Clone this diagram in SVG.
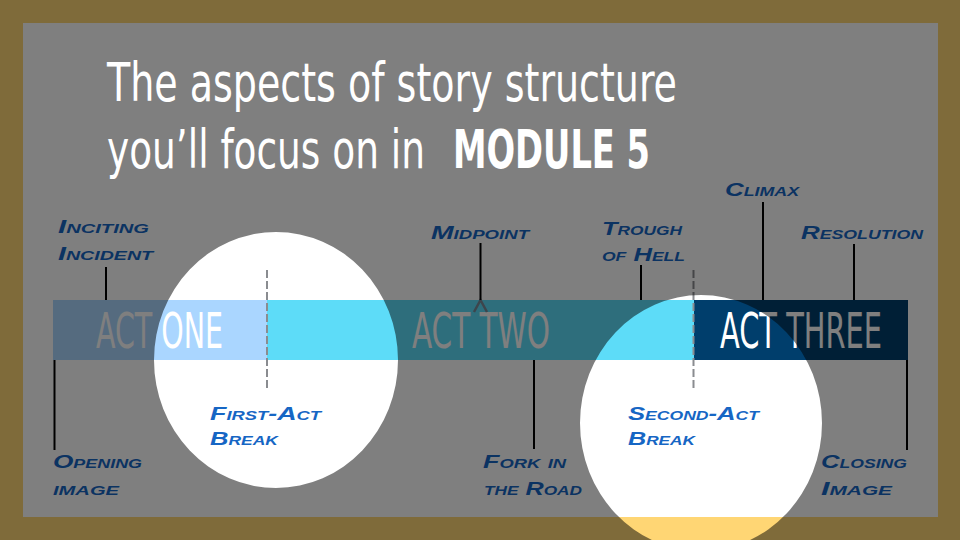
<svg xmlns="http://www.w3.org/2000/svg" width="960" height="540" viewBox="0 0 960 540">
<style>
.lbl{font-family:"Liberation Sans","DejaVu Sans",sans-serif;font-weight:bold;font-style:italic;font-variant:small-caps;font-size:19px;fill:#1666C4;}
.act{font-family:"Liberation Sans Narrow","DejaVu Sans Condensed","Liberation Sans",sans-serif;font-size:50px;fill:#FFFFFF;}
.title{font-family:"Liberation Sans Narrow","DejaVu Sans Condensed","Liberation Sans",sans-serif;font-size:54px;fill:#FFFFFF;}
.tick{stroke:#000000;stroke-width:2;fill:none;}
.dash{stroke:#8A8C90;stroke-width:2;stroke-dasharray:8 3;fill:none;}
</style>
<rect x="0" y="0" width="960" height="540" fill="#FFD674"/>
<rect x="23" y="23" width="915" height="494" fill="#FFFFFF"/>
<g id="bar">
<rect x="53" y="300" width="214" height="60" fill="#AAD6FF"/>
<rect x="267" y="300" width="427" height="60" fill="#5DDCF8"/>
<rect x="694" y="300" width="214" height="60" fill="#003E6C"/>
<text class="act" x="96" y="348" textLength="127" lengthAdjust="spacingAndGlyphs">ACT ONE</text>
<text class="act" x="412" y="348" textLength="138" lengthAdjust="spacingAndGlyphs">ACT TWO</text>
<text class="act" x="720" y="348" textLength="162" lengthAdjust="spacingAndGlyphs">ACT THREE</text>
<path d="M474 312 L480.5 300 L487 312" stroke="#7A8A99" stroke-width="2.5" fill="none"/>
</g>
<g id="connectors">
<line class="tick" x1="106" y1="267" x2="106" y2="300"/>
<line class="tick" x1="54.5" y1="360" x2="54.5" y2="450"/>
<line class="tick" x1="480.5" y1="243" x2="480.5" y2="300"/>
<line class="tick" x1="641" y1="265" x2="641" y2="300"/>
<line class="tick" x1="534" y1="360" x2="534" y2="449"/>
<line class="tick" x1="763" y1="202" x2="763" y2="300"/>
<line class="tick" x1="854" y1="244" x2="854" y2="300"/>
<line class="tick" x1="907" y1="360" x2="907" y2="450"/>
<line class="dash" x1="267" y1="270" x2="267" y2="388"/>
<line class="dash" x1="693.5" y1="270" x2="693.5" y2="388"/>
</g>
<g id="inciting-incident"><text class="lbl" x="58" y="233" textLength="91" lengthAdjust="spacingAndGlyphs">Inciting</text><text class="lbl" x="58" y="260" textLength="95" lengthAdjust="spacingAndGlyphs">Incident</text></g>
<g id="midpoint"><text class="lbl" x="431" y="239" textLength="98" lengthAdjust="spacingAndGlyphs">Midpoint</text></g>
<g id="trough-of-hell"><text class="lbl" x="602" y="235" textLength="80" lengthAdjust="spacingAndGlyphs">Trough</text><text class="lbl" x="602" y="261" textLength="83" lengthAdjust="spacingAndGlyphs">of Hell</text></g>
<g id="climax"><text class="lbl" x="725" y="196" textLength="74" lengthAdjust="spacingAndGlyphs">Climax</text></g>
<g id="resolution"><text class="lbl" x="801" y="239" textLength="122" lengthAdjust="spacingAndGlyphs">Resolution</text></g>
<g id="opening-image"><text class="lbl" x="53" y="468" textLength="89" lengthAdjust="spacingAndGlyphs">Opening</text><text class="lbl" x="53" y="495" textLength="66" lengthAdjust="spacingAndGlyphs">image</text></g>
<g id="fork-in-the-road"><text class="lbl" x="483" y="468" textLength="83" lengthAdjust="spacingAndGlyphs">Fork in</text><text class="lbl" x="484" y="495" textLength="98" lengthAdjust="spacingAndGlyphs">the Road</text></g>
<g id="closing-image"><text class="lbl" x="821" y="468" textLength="86" lengthAdjust="spacingAndGlyphs">Closing</text><text class="lbl" x="821" y="495" textLength="71" lengthAdjust="spacingAndGlyphs">Image</text></g>
<g id="first-act-break"><text class="lbl" x="210" y="420" textLength="111" lengthAdjust="spacingAndGlyphs">First-Act</text><text class="lbl" x="210" y="445" textLength="68" lengthAdjust="spacingAndGlyphs">Break</text></g>
<g id="second-act-break"><text class="lbl" x="628" y="420" textLength="131" lengthAdjust="spacingAndGlyphs">Second-Act</text><text class="lbl" x="628" y="445" textLength="67" lengthAdjust="spacingAndGlyphs">Break</text></g>
<path id="spotlight-overlay" fill="#000000" fill-opacity="0.5" fill-rule="evenodd" d="M0 0H960V540H0Z M154 360 a122 128 0 1 0 244 0 a122 128 0 1 0 -244 0Z M580 423 a121 128 0 1 0 242 0 a121 128 0 1 0 -242 0Z"/>
<g id="title">
<text class="title" x="107" y="101" textLength="570" lengthAdjust="spacingAndGlyphs">The aspects of story structure</text>
<text class="title" x="107" y="168" textLength="318" lengthAdjust="spacingAndGlyphs">you’ll focus on in</text>
<text class="title" x="453" y="168" font-weight="bold" textLength="197" lengthAdjust="spacingAndGlyphs">MODULE 5</text>
</g>
</svg>
